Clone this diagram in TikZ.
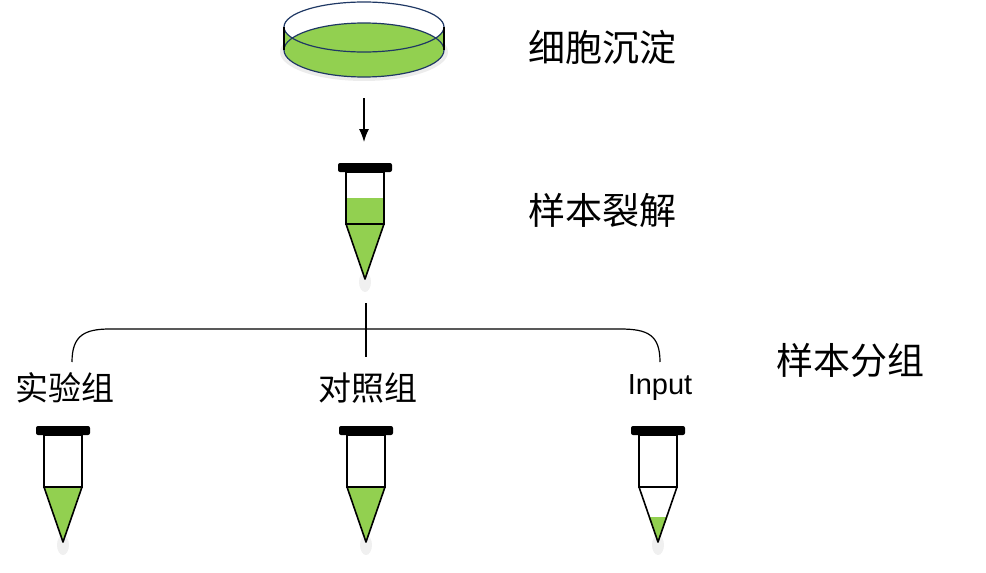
\documentclass[tikz,border=0pt]{standalone}
\usetikzlibrary{arrows.meta}
\usepackage{fontspec}
\newfontfamily\cjk{Noto Sans CJK SC}
\setmainfont{Liberation Sans}
\definecolor{lg}{RGB}{146,208,80}
\definecolor{dn}{RGB}{31,56,100}
\tikzset{big/.style={font=\cjk\fontsize{37}{42}\selectfont},
 small/.style={font=\cjk\fontsize{33}{38}\selectfont}}
\newcommand{\mytube}[3]{%
\begin{scope}[shift={(#1,0)}]
\fill[gray!12] (0,#3+3) ellipse (6 and 10);
#2
\draw[line width=1.6pt] (-19,0) rectangle (19,52);
\draw[line width=1.6pt,line join=round] (-19,52) -- (0,#3) -- (19,52);
\fill[rounded corners=2pt] (-27,-9) rectangle (27,0);
\end{scope}}
\begin{document}
\begin{tikzpicture}[x=1pt,y=-1pt]
\useasboundingbox (0,0) rectangle (986,573);
% dish
\fill[gray!15] (364,52) ellipse (84 and 29);
\fill[lg] (284,27) rectangle (444,50);
\fill[white] (364,27) ellipse (80 and 25);
\fill[lg] (364,50) ellipse (80 and 27);
\draw[dn,line width=1.2pt] (364,50) ellipse (80 and 27);
\draw[dn,line width=1.2pt] (364,27) ellipse (80 and 25);
\draw[line width=1.6pt] (284,27) -- (284,50) (444,27) -- (444,50);
\node[coordinate] (dish) at (364,98) {};
\node[coordinate] (tubetop) at (364,142) {};
\draw[-{Latex[length=13pt,width=10pt]},line width=1.2pt] (dish) -- (tubetop);
% lysis tube
\begin{scope}[shift={(0,172)}]
\mytube{365}{\fill[lg] (-19,26) rectangle (19,52); \fill[lg] (-19,52) -- (0,107) -- (19,52) -- cycle;}{107}
\end{scope}
% bracket
\node[coordinate] (c) at (366,303) {};
\node[coordinate] (cb) at (366,357) {};
\draw[line width=1.2pt] (c) -- (cb);
\draw[line width=1.2pt] (72,362) .. controls (72,335) and (85,329) .. (110,329) -- (620,329) .. controls (648,329) and (660,335) .. (660,362);
% bottom tubes
\begin{scope}[shift={(0,435)}]
\mytube{63}{\fill[lg] (-19,52) -- (0,107) -- (19,52) -- cycle;}{107}
\mytube{366}{\fill[lg] (-19,52) -- (0,107) -- (19,52) -- cycle;}{107}
\mytube{658}{\fill[lg] (-9.5,82) -- (0,107) -- (9.5,82) -- cycle;}{107}
\end{scope}
\node[big] (l1) at (602,47) {细胞沉淀};
\node[big] (l2) at (602,210) {样本裂解};
\node[big] (l3) at (850,360) {样本分组};
\node[small] (a) at (65,388) {实验组};
\node[small] (b) at (368,388) {对照组};
\node[font=\fontsize{29}{34}\selectfont] (i) at (660,388) {Input};
\end{tikzpicture}
\end{document}
